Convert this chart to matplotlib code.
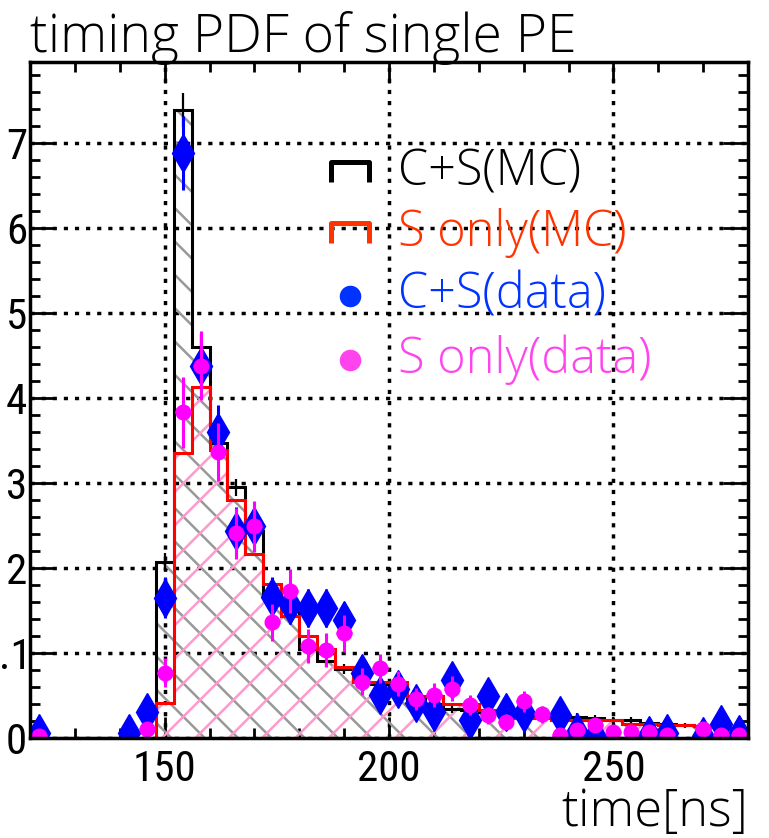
import numpy as np
import matplotlib.pyplot as plt
from matplotlib.path import Path
from matplotlib.patches import Rectangle
from matplotlib.ticker import MultipleLocator
from matplotlib.transforms import ScaledTranslation

plt.rcParams['hatch.linewidth'] = 1.8

# 4 ns bins from 120 to 280 ns
bin_edges = np.arange(120, 284, 4)

# C+S Monte Carlo (black) and S-only Monte Carlo (red) timing PDFs
cs_mc = [0, 0, 0, 0, 0, 0, 0,
         0.0207, 0.0739, 0.0460, 0.0347, 0.0295, 0.0244, 0.0168, 0.0153,
         0.0105, 0.0090, 0.0081, 0.0066, 0.0064, 0.0062, 0.0046, 0.0040,
         0.0034, 0.0033, 0.0030, 0.0029, 0.0026, 0.0025, 0.0027, 0.0025,
         0.0023, 0.0021, 0.0021, 0.0018, 0.0016, 0.0015, 0.0014, 0.0013,
         0.0012]
cs_mc_err = [0, 0, 0, 0, 0, 0, 0,
             0.0010, 0.0020, 0.0015, 0.0012, 0.0010, 0.0010, 0.0009, 0.0008,
             0.0007, 0.0007, 0.0006, 0.0006, 0.0006, 0.0006, 0.0005, 0.0005,
             0.0005, 0.0005, 0.0005, 0.0005, 0.0004, 0.0004, 0.0004, 0.0004,
             0.0004, 0.0004, 0.0004, 0.0003, 0.0003, 0.0003, 0.0003, 0.0003,
             0.0003]
s_mc = [0, 0, 0, 0, 0, 0, 0,
        0.0041, 0.0335, 0.0413, 0.0339, 0.0280, 0.0216, 0.0181, 0.0143,
        0.0120, 0.0105, 0.0084, 0.0066, 0.0066, 0.0066, 0.0049, 0.0049,
        0.0040, 0.0040, 0.0033, 0.0033, 0.0023, 0.0023, 0.0021, 0.0021,
        0.0021, 0.0021, 0.0016, 0.0016, 0.0015, 0.0015, 0.0014, 0.0013,
        0.0010]

# C+S data (blue diamonds)
cs_t = [122, 142, 146, 150, 154, 158, 162, 166, 170, 174, 178, 182, 186, 190,
        194, 198, 202, 206, 210, 214, 218, 222, 226, 230, 238, 242, 246, 258,
        262, 270, 274, 278]
cs_val = [0.0006, 0.0006, 0.0031, 0.0165, 0.0688, 0.0437, 0.0360, 0.0243,
          0.0249, 0.0166, 0.0156, 0.0153, 0.0153, 0.0139, 0.0076, 0.0051,
          0.0058, 0.0041, 0.0031, 0.0068, 0.0021, 0.0049, 0.0031, 0.0029,
          0.0027, 0.0007, 0.0002, 0.0004, 0.0006, 0.0002, 0.0017, 0.0005]
cs_err = [0.0006, 0.0006, 0.0010, 0.0024, 0.0043, 0.0035, 0.0032, 0.0029,
          0.0029, 0.0023, 0.0022, 0.0022, 0.0022, 0.0021, 0.0016, 0.0014,
          0.0014, 0.0013, 0.0011, 0.0016, 0.0010, 0.0013, 0.0011, 0.0011,
          0.0010, 0.0006, 0.0004, 0.0005, 0.0006, 0.0004, 0.0008, 0.0005]

# S-only data (magenta circles)
s_t = [122, 146, 150, 154, 158, 162, 166, 170, 174, 178, 182, 186, 190, 194,
       198, 202, 206, 210, 214, 218, 222, 226, 230, 234, 238, 242, 246, 250,
       254, 258, 262, 270, 274, 278]
s_val = [0.0002, 0.0010, 0.0077, 0.0383, 0.0438, 0.0336, 0.0241, 0.0249,
         0.0136, 0.0173, 0.0108, 0.0104, 0.0123, 0.0066, 0.0082, 0.0064,
         0.0046, 0.0051, 0.0058, 0.0039, 0.0027, 0.0019, 0.0043, 0.0028,
         0.0004, 0.0009, 0.0015, 0.0007, 0.0007, 0.0007, 0.0004, 0.0010,
         0.0004, 0.0004]
s_err = [0.0003, 0.0007, 0.0017, 0.0042, 0.0041, 0.0034, 0.0030, 0.0030,
         0.0022, 0.0026, 0.0020, 0.0020, 0.0022, 0.0016, 0.0017, 0.0015,
         0.0013, 0.0014, 0.0015, 0.0012, 0.0010, 0.0009, 0.0012, 0.0010,
         0.0004, 0.0006, 0.0008, 0.0006, 0.0006, 0.0006, 0.0004, 0.0007,
         0.0004, 0.0004]

y_ticks = [0, 0.01, 0.02, 0.03, 0.04, 0.05, 0.06, 0.07]
y_tick_labels = ['0', '.1', '2', '3', '4', '5', '6', '7']
x_ticks = [150, 200, 250]

legend_labels = ['C+S(MC)', 'S only(MC)', 'C+S(data)', 'S only(data)']
legend_colors = ['black', '#ff3300', '#0033ff', '#ff44ee']
legend_y = [0.837, 0.747, 0.654, 0.559]

label_font = ['Roboto Condensed', 'DejaVu Sans']
text_font = ['Open Sans', 'DejaVu Sans']

fig = plt.figure(figsize=(7.69, 8.38), dpi=100)
ax = fig.add_axes([30 / 769, 1 - 738 / 838, 718 / 769, 676 / 838])
ax.set_xlim(120, 280)
ax.set_ylim(0, 0.0795)

centers = (bin_edges[:-1] + bin_edges[1:]) / 2

# hatched fills
ax.stairs(cs_mc, bin_edges, fill=True, facecolor='none', edgecolor='#999999',
          hatch='\\', linewidth=0, zorder=2)
ax.stairs(s_mc, bin_edges, fill=True, facecolor='none', edgecolor='#ff99cc',
          hatch='/', linewidth=0, zorder=2.1)
# outlines
ax.stairs(cs_mc, bin_edges, color='black', linewidth=2.2, zorder=3)
ax.errorbar(centers, cs_mc, yerr=cs_mc_err, fmt='none', ecolor='black',
            elinewidth=1.6, zorder=3)
ax.stairs(s_mc, bin_edges, color='red', linewidth=2.2, zorder=3.1)

# data points
ax.errorbar(cs_t, cs_val, yerr=cs_err, xerr=1.7, fmt='d', color='#0000ff',
            markersize=19, elinewidth=2.2, capsize=0, zorder=4)
ax.errorbar(s_t, s_val, yerr=s_err, xerr=1.7, fmt='o', color='#ff00ff',
            markersize=10.5, elinewidth=2.2, capsize=0, zorder=4.1)

# grid
ax.grid(True, color='black', linestyle=(0, (1.2, 2)), linewidth=2.5, zorder=1)
ax.add_patch(Rectangle((200, 0.0405), 50, 0.04, facecolor='white', alpha=0.45,
                       edgecolor='none', zorder=1.5))

# ticks on all four sides, pointing in
ax.set_xticks(x_ticks)
ax.set_yticks(y_ticks)
ax.set_yticklabels(y_tick_labels)
ax.xaxis.set_minor_locator(MultipleLocator(10))
ax.yaxis.set_minor_locator(MultipleLocator(0.002))
ax.tick_params(which='both', direction='in', top=True, right=True, width=2,
               color='black')
ax.tick_params(axis='x', which='major', length=15, pad=8)
ax.tick_params(axis='x', which='minor', length=7)
ax.tick_params(axis='y', which='major', length=18, pad=2)
ax.tick_params(axis='y', which='minor', length=7)
for lab in ax.get_xticklabels():
    lab.set_family(label_font)
    lab.set_fontsize(31)
for lab in ax.get_yticklabels():
    lab.set_family(label_font)
    lab.set_fontsize(31)
    if lab.get_text() == '.1':
        lab.set_transform(lab.get_transform()
                          + ScaledTranslation(3 / 72, 0, fig.dpi_scale_trans))
for sp in ax.spines.values():
    sp.set_linewidth(2.5)
    sp.set_zorder(5)

# legend
hist_mark = Path([(-1, -0.5), (-1, 0.5), (1, 0.5), (1, -0.5)])
for i, (lab, col) in enumerate(zip(legend_labels, legend_colors)):
    y = legend_y[i]
    if i < 2:
        ax.plot([0.4457], [y], marker=hist_mark, markersize=28, fillstyle='none',
                markeredgewidth=3.6, color=col, linestyle='none',
                transform=ax.transAxes, zorder=6, clip_on=False)
    else:
        ax.plot([0.4457], [y], marker='o', markersize=14.5, color=col,
                linestyle='none', transform=ax.transAxes, zorder=6)
    ax.text(0.5125, y, lab, color=col, fontsize=35, family=text_font,
            fontweight='light', va='center', ha='left',
            transform=ax.transAxes, zorder=6)

fig.text(30 / 769, 1 - 52 / 838, 'timing PDF of single PE', fontsize=38.5,
         family=text_font, fontweight='light', va='baseline', ha='left')
fig.text(748 / 769, 1 - 826 / 838, 'time[ns]', fontsize=36.5, family=text_font,
         fontweight='light', va='baseline', ha='right')

fig.savefig('out.png', dpi=100)
